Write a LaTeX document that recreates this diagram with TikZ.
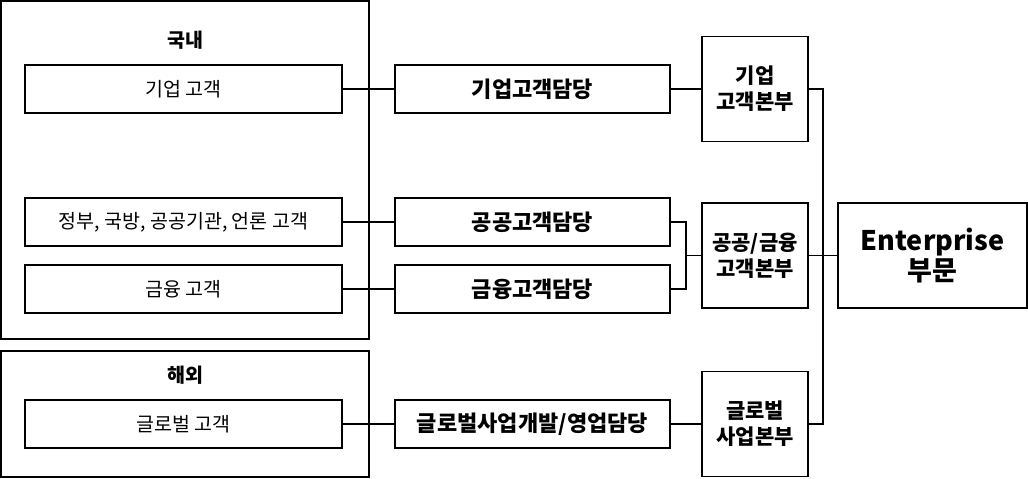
\documentclass[tikz,border=0pt]{standalone}
\usepackage{fontspec}
\setmainfont{Noto Sans CJK KR}
\begin{document}
\begin{tikzpicture}[x=1pt,y=-1pt,
  box/.style={draw,line width=1.5pt,inner sep=0pt,align=center},
  lbox/.style={box,minimum width=317pt,minimum height=48pt,font=\fontsize{19.5}{22}\selectfont},
  mbox/.style={box,minimum width=275pt,minimum height=48pt,font=\fontsize{22}{24}\selectfont\bfseries},
  rbox/.style={box,minimum width=106pt,minimum height=105pt,font=\fontsize{21}{26}\selectfont\bfseries},
  ttl/.style={font=\fontsize{19.5}{22}\selectfont\bfseries},
  ln/.style={line width=1.5pt}]
\useasboundingbox (0,0) rectangle (1028,479);
\node[box,minimum width=368pt,minimum height=338pt] (dom) at (185,170) {};
\node[ttl] (domt) at (185,40) {국내};
\node[box,minimum width=368pt,minimum height=126pt] (ovs) at (185,414) {};
\node[ttl] (ovst) at (185,375) {해외};
\node[lbox] (l1) at (183.5,89) {기업 고객};
\node[lbox] (l2) at (183.5,222) {정부, 국방, 공공기관, 언론 고객};
\node[lbox] (l3) at (183.5,289) {금융 고객};
\node[lbox] (l4) at (183.5,424) {글로벌 고객};
\node[mbox] (m1) at (532.5,89) {기업고객담당};
\node[mbox] (m2) at (532.5,222) {공공고객담당};
\node[mbox] (m3) at (532.5,289) {금융고객담당};
\node[mbox] (m4) at (532.5,424) {글로벌사업개발/영업담당};
\node[rbox] (r1) at (755,89) {기업\\고객본부};
\node[rbox] (r2) at (755,255.5) {공공/금융\\고객본부};
\node[rbox] (r3) at (755,424) {글로벌\\사업본부};
\node[box,minimum width=189pt,minimum height=105pt,font=\fontsize{27}{30}\selectfont\bfseries] (ent) at (932.5,255.5) {Enterprise\\부문};
\coordinate (j1) at (686,255.5);
\coordinate (j2) at (823,255.5);
\draw[ln] (l1) -- (m1); \draw[ln] (l2) -- (m2); \draw[ln] (l3) -- (m3); \draw[ln] (l4) -- (m4);
\draw[ln] (m1) -- (r1); \draw[ln] (m4) -- (r3);
\draw[ln] (m2.east) -| (j1) |- (m3.east);
\draw[ln] (j1) -- (r2.west);
\draw[ln] (r1.east) -| (j2) |- (r3.east);
\draw[ln] (r2) -- (ent);
\end{tikzpicture}
\end{document}
